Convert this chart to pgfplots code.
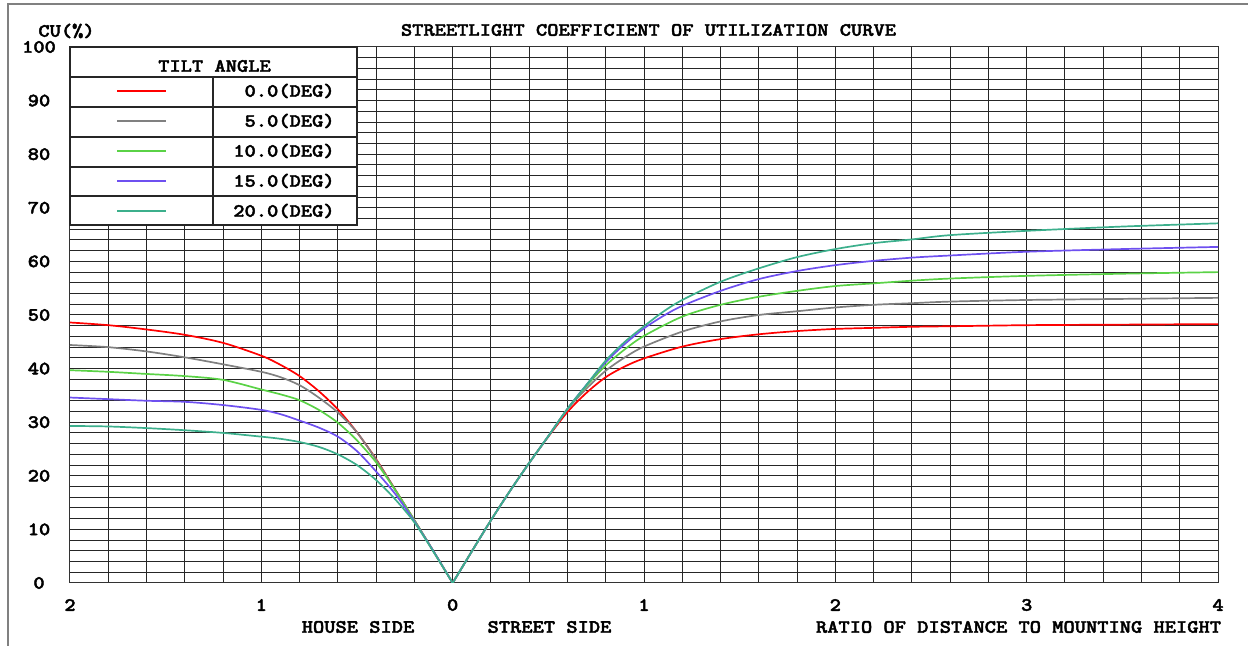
\documentclass[border=0pt]{standalone}
\usepackage{fontspec}
\newfontfamily\cmono{lmmonolt10-bold.otf}[FakeStretch=1.14, FakeBold=2.2]
\usepackage{pgfplots}
\pgfplotsset{compat=1.18}
\usepackage{pgfplotstable}

\newcommand{\cf}{\cmono\fontsize{9.4}{11}\selectfont}
\definecolor{tiltA}{RGB}{255,0,0}
\definecolor{tiltB}{RGB}{128,128,128}
\definecolor{tiltC}{RGB}{90,210,70}
\definecolor{tiltD}{RGB}{110,80,240}
\definecolor{tiltE}{RGB}{60,175,140}

% house side (negative x) and street side (positive x), one table each
\pgfplotstableread{
x y
-2 48.6
-1.8 48.1
-1.6 47.3
-1.4 46.3
-1.2 44.8
-1.0 42.4
-0.9 40.7
-0.8 38.6
-0.7 35.8
-0.6 32.4
-0.5 28.1
-0.4 23.1
-0.3 17.4
-0.2 11.7
-0.1 5.9
0 0
}\aL
\pgfplotstableread{
x y
0 0
0.1 5.9
0.2 11.7
0.3 17.2
0.4 22.4
0.5 27.3
0.6 31.9
0.7 35.5
0.8 38.4
0.9 40.4
1.0 41.9
1.2 44.1
1.4 45.5
1.6 46.4
1.8 47.0
2.0 47.4
2.2 47.6
2.4 47.8
2.6 47.9
3.0 48.1
3.5 48.2
4.0 48.3
}\aR
\pgfplotstableread{
x y
-2 44.4
-1.8 44.0
-1.6 43.2
-1.4 42.1
-1.2 40.8
-1.0 39.4
-0.9 38.4
-0.8 36.9
-0.7 34.6
-0.6 31.8
-0.5 28.1
-0.4 23.0
-0.3 17.4
-0.2 11.7
-0.1 5.9
0 0
}\bL
\pgfplotstableread{
x y
0 0
0.1 5.9
0.2 11.7
0.3 17.2
0.4 22.4
0.5 27.4
0.6 32.4
0.7 36.3
0.8 39.6
0.9 42.1
1.0 44.1
1.2 46.9
1.4 48.8
1.6 50.0
1.8 50.7
2.0 51.4
2.2 51.9
2.4 52.2
2.6 52.5
3.0 52.8
3.5 53.0
4.0 53.2
}\bR
\pgfplotstableread{
x y
-2 39.7
-1.8 39.4
-1.6 39.0
-1.4 38.6
-1.2 37.9
-1.0 36.1
-0.9 35.2
-0.8 34.1
-0.7 32.3
-0.6 29.9
-0.5 26.6
-0.4 22.5
-0.3 17.3
-0.2 11.7
-0.1 5.9
0 0
}\cL
\pgfplotstableread{
x y
0 0
0.1 5.9
0.2 11.7
0.3 17.2
0.4 22.4
0.5 27.4
0.6 32.5
0.7 36.8
0.8 40.6
0.9 43.6
1.0 46.1
1.2 49.7
1.4 51.9
1.6 53.4
1.8 54.5
2.0 55.4
2.2 55.9
2.4 56.4
2.6 56.8
3.0 57.3
3.5 57.7
4.0 58.0
}\cR
\pgfplotstableread{
x y
-2 34.6
-1.8 34.3
-1.6 34.0
-1.4 33.8
-1.2 33.2
-1.0 32.3
-0.9 31.5
-0.8 30.3
-0.7 29.0
-0.6 27.3
-0.5 24.6
-0.4 20.8
-0.3 16.6
-0.2 11.5
-0.1 5.9
0 0
}\dL
\pgfplotstableread{
x y
0 0
0.1 5.9
0.2 11.7
0.3 17.2
0.4 22.4
0.5 27.4
0.6 32.5
0.7 37.0
0.8 41.2
0.9 44.6
1.0 47.5
1.1 49.8
1.2 51.7
1.4 54.5
1.6 56.7
1.8 58.2
2.0 59.3
2.2 60.1
2.4 60.7
2.6 61.1
3.0 61.8
3.5 62.3
4.0 62.7
}\dR
\pgfplotstableread{
x y
-2 29.3
-1.8 29.2
-1.6 28.9
-1.4 28.5
-1.2 28.0
-1.0 27.3
-0.9 26.9
-0.8 26.3
-0.7 25.4
-0.6 24.0
-0.5 22.0
-0.4 19.2
-0.3 15.6
-0.2 11.3
-0.1 5.8
0 0
}\eL
\pgfplotstableread{
x y
0 0
0.1 5.9
0.2 11.7
0.3 17.2
0.4 22.4
0.5 27.4
0.6 32.5
0.7 37.0
0.8 41.5
0.9 45.0
1.0 47.9
1.1 50.6
1.2 52.8
1.4 56.2
1.6 58.7
1.8 60.8
2.0 62.3
2.2 63.4
2.4 64.1
2.6 64.9
3.0 65.7
3.5 66.5
4.0 67.1
}\eR

\begin{document}
\begin{tikzpicture}[x=0.5pt,y=0.5pt]
  % page in px units of the reference (1248 x 646)
  \useasboundingbox (0,0) rectangle (1248,646);
  \draw[gray, line width=0.6pt] (8,0) -- (8,642) -- (1248,642);

  \begin{axis}[
    at={(35pt,31.5pt)}, anchor=south west,
    scale only axis, width=574pt, height=268pt,
    xmin=-2, xmax=4, ymin=0, ymax=100,
    xtick={-2,...,4}, xticklabels={2,1,0,1,2,3,4},
    ytick={0,10,...,100},
    minor x tick num=4, minor y tick num=4,
    grid=both,
    major grid style={black!85, line width=0.5pt},
    minor grid style={black!85, line width=0.5pt},
    major tick length=0pt, minor tick length=0pt,
    axis line style={black!80, line width=0.5pt},
    tick label style={font=\cf},
    /pgf/number format/assume math mode=true,
    xticklabel style={anchor=center, yshift=-11pt},
    yticklabel style={anchor=center, xshift=-15.5pt},
    every axis plot/.append style={line width=0.85pt, smooth, no markers},
  ]
    \addplot[tiltA] table {\aL};
    \addplot[tiltA] table {\aR};
    \addplot[tiltB] table {\bL};
    \addplot[tiltB] table {\bR};
    \addplot[tiltC] table {\cL};
    \addplot[tiltC] table {\cR};
    \addplot[tiltD] table {\dL};
    \addplot[tiltD] table {\dR};
    \addplot[tiltE] table {\eL};
    \addplot[tiltE] table {\eR};
  \end{axis}

  % legend table
  \fill[white] (70,421) rectangle (357,599);
  \draw[black!85, line width=0.55pt] (70,421) rectangle (357,599);
  \foreach \yy in {569,539,509,479,450} \draw[black!85, line width=0.55pt] (70,\yy) -- (357,\yy);
  \draw[black!85, line width=0.55pt] (213,421) -- (213,569);
  \node[font=\cf, inner sep=0pt] at (214.5,580) {TILT ANGLE};
  \foreach \yy/\cc/\tt in {555/tiltA/0.0(DEG), 525/tiltB/5.0(DEG), 495/tiltC/10.0(DEG), 465/tiltD/15.0(DEG), 435/tiltE/20.0(DEG)} {
    \draw[\cc, line width=0.85pt] (117,\yy) -- (166,\yy);
    \node[font=\cf, inner sep=0pt, anchor=east] at (335,\yy) {\tt};
  }

  % titles
  \node[font=\cf, inner sep=0pt] at (648.5,616) {STREETLIGHT COEFFICIENT OF UTILIZATION CURVE};
  \node[font=\cf, inner sep=0pt] at (66.5,615) {CU(\%)};
  \node[font=\cf, inner sep=0pt] at (358,19) {HOUSE SIDE};
  \node[font=\cf, inner sep=0pt] at (549.5,19) {STREET SIDE};
  \node[font=\cf, inner sep=0pt] at (1018.5,19) {RATIO OF DISTANCE TO MOUNTING HEIGHT};
\end{tikzpicture}
\end{document}
